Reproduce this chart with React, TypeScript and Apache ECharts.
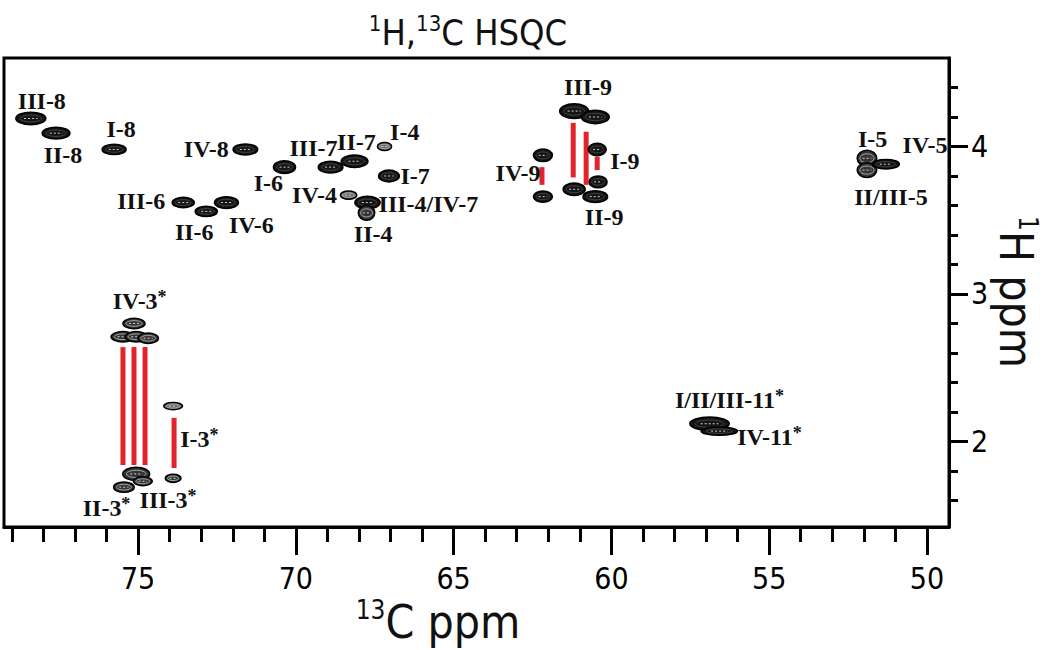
import React, { useEffect, useRef } from 'react';
import * as echarts from 'echarts';

// ---- axis ticks ----
const xMajorTicks = [50, 55, 60, 65, 70, 75];
const xMinorTicks = [50, 51, 52, 53, 54, 55, 56, 57, 58, 59, 60, 61, 62, 63, 64, 65, 66, 67, 68, 69, 70, 71, 72, 73, 74, 75, 76, 77, 78, 79];
const yMajorTicks = [2, 3, 4];
const yMinorTicks = [1.6, 1.8, 2.0, 2.2, 2.4, 2.6, 2.8, 3.0, 3.2, 3.4, 3.6, 3.8, 4.0, 4.2, 4.4];

// ---- cross peaks: 13C ppm, 1H ppm, linewidths (ppm), relative intensity ----
const peakNames = ['III-8', 'II-8', 'I-8', 'IV-8', 'I-6', 'III-7', 'II-7', 'I-4', 'I-7', 'IV-4', 'III-4/IV-7', 'II-4',
  'III-6', 'II-6', 'IV-6', 'III-9a', 'III-9b', 'I-9a', 'I-9b', 'IV-9a', 'IV-9b', 'II-9a', 'II-9b',
  'I-5', 'II/III-5', 'IV-5', 'IV-3*', '3*a', '3*b', '3*c', 'I-3*a', 'I-3*b', 'III-3*', 'III-3*b', 'II-3*',
  'I/II/III-11*', 'IV-11*'];
const peakC = [78.40, 77.60, 75.76, 71.60, 70.36, 68.90, 68.14, 67.19, 67.05, 68.33, 67.73, 67.76,
  73.57, 72.84, 72.20, 61.18, 60.51, 60.45, 60.42, 62.17, 62.17, 61.18, 60.51,
  51.90, 51.90, 51.30, 75.13, 75.48, 75.06, 74.68, 73.89, 73.89, 75.06, 74.85, 75.45,
  56.89, 56.58];
const peakH = [4.19, 4.09, 3.98, 3.98, 3.86, 3.86, 3.90, 4.00, 3.80, 3.67, 3.62, 3.55,
  3.62, 3.56, 3.62, 4.24, 4.20, 3.98, 3.76, 3.94, 3.66, 3.71, 3.66,
  3.92, 3.84, 3.88, 2.80, 2.71, 2.71, 2.70, 2.24, 1.75, 1.78, 1.73, 1.69,
  2.12, 2.07];
const peakWidthC = [0.95, 0.88, 0.76, 0.78, 0.70, 0.78, 0.85, 0.45, 0.66, 0.52, 0.80, 0.52,
  0.70, 0.70, 0.76, 0.92, 0.88, 0.57, 0.57, 0.60, 0.60, 0.70, 0.78,
  0.62, 0.62, 0.85, 0.70, 0.75, 0.70, 0.65, 0.60, 0.50, 0.85, 0.60, 0.65,
  1.25, 1.15];
const peakWidthH = [0.085, 0.08, 0.07, 0.075, 0.085, 0.08, 0.085, 0.055, 0.08, 0.055, 0.085, 0.10,
  0.07, 0.07, 0.08, 0.10, 0.09, 0.085, 0.08, 0.085, 0.075, 0.085, 0.08,
  0.11, 0.10, 0.065, 0.07, 0.07, 0.07, 0.07, 0.05, 0.055, 0.09, 0.06, 0.07,
  0.09, 0.055];
const peakIntensity = [1, 1, 1, 1, 1, 1, 1, 0.35, 1, 0.45, 0.9, 0.6,
  1, 1, 1, 1, 1, 1, 1, 1, 1, 1, 1,
  0.7, 0.8, 1, 0.6, 0.7, 0.7, 0.7, 0.45, 0.55, 0.6, 0.6, 0.6,
  1, 1];

// ---- assignment labels ----
const labelTexts = ['III-8', 'II-8', 'I-8', 'IV-8', 'I-6', 'III-7', 'II-7', 'I-4', 'I-7', 'IV-4', 'III-4/IV-7', 'II-4',
  'III-6', 'II-6', 'IV-6', 'III-9', 'I-9', 'IV-9', 'II-9', 'I-5', 'IV-5', 'II/III-5',
  'IV-3*', 'I-3*', 'II-3*', 'III-3*', 'I/II/III-11*', 'IV-11*'];
const labelC = [78.05, 77.38, 75.54, 72.84, 70.87, 69.44, 68.08, 66.55, 66.22, 69.41, 65.80, 67.55,
  74.90, 73.22, 71.41, 60.74, 59.57, 62.96, 60.23, 51.72, 50.06, 51.14,
  74.95, 73.06, 76.00, 74.05, 56.26, 54.99];
const labelH = [4.31, 3.94, 4.12, 3.98, 3.75, 3.99, 4.03, 4.10, 3.80, 3.67, 3.61, 3.41,
  3.63, 3.42, 3.47, 4.40, 3.90, 3.82, 3.52, 4.05, 4.01, 3.66,
  2.95, 2.02, 1.55, 1.60, 2.28, 2.03];

// ---- red connectivity lines: 13C ppm, 1H start, 1H end ----
const linkC = [75.48, 75.13, 74.78, 73.86, 62.20, 61.21, 60.80, 60.45];
const linkHTop = [2.64, 2.64, 2.64, 2.16, 3.86, 4.16, 4.10, 3.93];
const linkHBottom = [1.84, 1.84, 1.84, 1.82, 3.74, 3.79, 3.74, 3.84];

const X_MIN = 49.3;
const X_MAX = 79.25;
const Y_MIN = 1.42;
const Y_MAX = 4.6;

const SANS = '"Liberation Sans Narrow", "DejaVu Sans Condensed", "Roboto", sans-serif';
const SERIF = '"Liberation Serif", "DejaVu Serif", serif';

export default function App() {
  const ref = useRef<HTMLDivElement>(null);

  useEffect(() => {
    const chart = echarts.init(ref.current!, null, { renderer: 'svg' });

    const peakData = peakC.map((c, i) => [c, peakH[i], peakWidthC[i], peakWidthH[i], peakIntensity[i]]);
    const labelData = labelC.map((c, i) => [c, labelH[i]]);
    const linkData = linkC.map((c, i) => [c, linkHTop[i], linkHBottom[i]]);

    const toRich = (t: string) => {
      if (t.endsWith('*')) return `{m|${t.slice(0, -1)}}{s|*}`;
      return `{m|${t}}`;
    };

    const axisBase = (extra: any) => ({
      type: 'value',
      splitLine: { show: false },
      ...extra,
    });

    const option: any = {
      animation: false,
      backgroundColor: '#fff',
      grid: {
        left: 4, right: 101, top: 58, bottom: 123,
        show: true, borderColor: '#000', borderWidth: 3, backgroundColor: 'transparent',
      },
      xAxis: [
        axisBase({
          min: X_MIN, max: X_MAX, inverse: true, position: 'bottom',
          axisLine: { show: true, onZero: false, lineStyle: { color: '#000', width: 3 } },
          axisTick: { show: true, customValues: xMajorTicks, length: 28, lineStyle: { color: '#000', width: 3 } },
          axisLabel: { show: true, customValues: xMajorTicks, margin: 36, fontSize: 30, color: '#000', fontFamily: SANS },
        }),
        axisBase({
          min: X_MIN, max: X_MAX, inverse: true, position: 'bottom',
          axisLine: { show: false },
          axisTick: { show: true, customValues: xMinorTicks, length: 15, lineStyle: { color: '#000', width: 3 } },
          axisLabel: { show: false },
        }),
      ],
      yAxis: [
        axisBase({
          min: Y_MIN, max: Y_MAX, position: 'right',
          axisLine: { show: true, onZero: false, lineStyle: { color: '#000', width: 3 } },
          axisTick: { show: true, customValues: yMajorTicks, length: 19, lineStyle: { color: '#000', width: 3 } },
          axisLabel: { show: true, customValues: yMajorTicks, margin: 22, fontSize: 30, color: '#000', fontFamily: SANS },
        }),
        axisBase({
          min: Y_MIN, max: Y_MAX, position: 'right',
          axisLine: { show: false },
          axisTick: { show: true, customValues: yMinorTicks, length: 9, lineStyle: { color: '#000', width: 3 } },
          axisLabel: { show: false },
        }),
      ],
      graphic: [
        {
          type: 'text', x: 468, y: 32, silent: true,
          style: {
            text: '{sup|1}{b|H,}{sup|13}{b|C HSQC}',
            align: 'center', verticalAlign: 'middle',
            rich: {
              b: { fontSize: 36, fontFamily: SANS, lineHeight: 40, fill: '#111' },
              sup: { fontSize: 22, fontFamily: SANS, lineHeight: 22, verticalAlign: 'top', fill: '#111' },
            },
          },
        },
        {
          type: 'text', x: 438, y: 622, silent: true,
          style: {
            text: '{sup|13}{b|C ppm}',
            align: 'center', verticalAlign: 'middle',
            rich: {
              b: { fontSize: 46, fontFamily: SANS, lineHeight: 50, fill: '#111' },
              sup: { fontSize: 26, fontFamily: SANS, lineHeight: 26, verticalAlign: 'top', fill: '#111' },
            },
          },
        },
        {
          type: 'text', x: 1016, y: 292, rotation: -Math.PI / 2, silent: true,
          style: {
            text: '{sup|1}{b|H ppm}',
            align: 'center', verticalAlign: 'middle',
            rich: {
              b: { fontSize: 46, fontFamily: SANS, lineHeight: 50, fill: '#111' },
              sup: { fontSize: 26, fontFamily: SANS, lineHeight: 26, verticalAlign: 'top', fill: '#111' },
            },
          },
        },
      ],
      series: [
        {
          type: 'custom',
          name: 'links',
          xAxisIndex: 0, yAxisIndex: 0,
          silent: true,
          data: linkData,
          encode: { x: 0, y: [1, 2] },
          renderItem: (params: any, api: any) => {
            const a = api.coord([api.value(0), api.value(1)]);
            const b = api.coord([api.value(0), api.value(2)]);
            return {
              type: 'line',
              shape: { x1: a[0], y1: a[1], x2: b[0], y2: b[1] },
              style: { stroke: '#e3232b', lineWidth: 5 },
            };
          },
        },
        {
          type: 'custom',
          name: 'peaks',
          xAxisIndex: 0, yAxisIndex: 0,
          silent: true,
          data: peakData,
          encode: { x: 0, y: 1 },
          renderItem: (params: any, api: any) => {
            const c = api.value(0), h = api.value(1), wc = api.value(2), wh = api.value(3), k = api.value(4);
            const p = api.coord([c, h]);
            const q = api.coord([c - wc / 2, h + wh / 2]);
            const rx = Math.abs(q[0] - p[0]);
            const ry = Math.abs(q[1] - p[1]);
            const fill = k > 0.85 ? '#151515' : k > 0.5 ? '#353535' : '#6e6e6e';
            const inner = k > 0.85 ? '#444' : '#a8a8a8';
            return {
              type: 'group',
              children: [
                { type: 'ellipse', shape: { cx: p[0], cy: p[1], rx, ry }, style: { fill, stroke: '#000', lineWidth: 1.5 } },
                { type: 'ellipse', shape: { cx: p[0], cy: p[1], rx: rx * 0.72, ry: ry * 0.55 }, style: { fill: 'none', stroke: inner, lineWidth: 1 } },
                { type: 'line', shape: { x1: p[0] - rx * 0.45, y1: p[1], x2: p[0] + rx * 0.45, y2: p[1] }, style: { stroke: '#d0d0d0', lineWidth: 1, lineDash: [2, 2] } },
              ],
            };
          },
        },
        {
          type: 'custom',
          name: 'labels',
          xAxisIndex: 0, yAxisIndex: 0,
          silent: true,
          data: labelData,
          encode: { x: 0, y: 1 },
          renderItem: (params: any, api: any) => {
            const p = api.coord([api.value(0), api.value(1)]);
            return {
              type: 'text',
              x: p[0], y: p[1],
              style: {
                text: toRich(labelTexts[params.dataIndex]),
                align: 'center', verticalAlign: 'middle',
                rich: {
                  m: { fontSize: 24, fontWeight: 'bold', fontFamily: SERIF, lineHeight: 26, fill: '#111' },
                  s: { fontSize: 18, fontWeight: 'bold', fontFamily: SERIF, lineHeight: 15, verticalAlign: 'top', fill: '#111' },
                },
              },
            };
          },
        },
      ],
    };

    chart.setOption(option);
    return () => chart.dispose();
  }, []);

  return (
    <div
      ref={ref}
      style={{ position: 'fixed', left: 0, top: 0, width: 1050, height: 650, background: '#fff' }}
    />
  );
}
